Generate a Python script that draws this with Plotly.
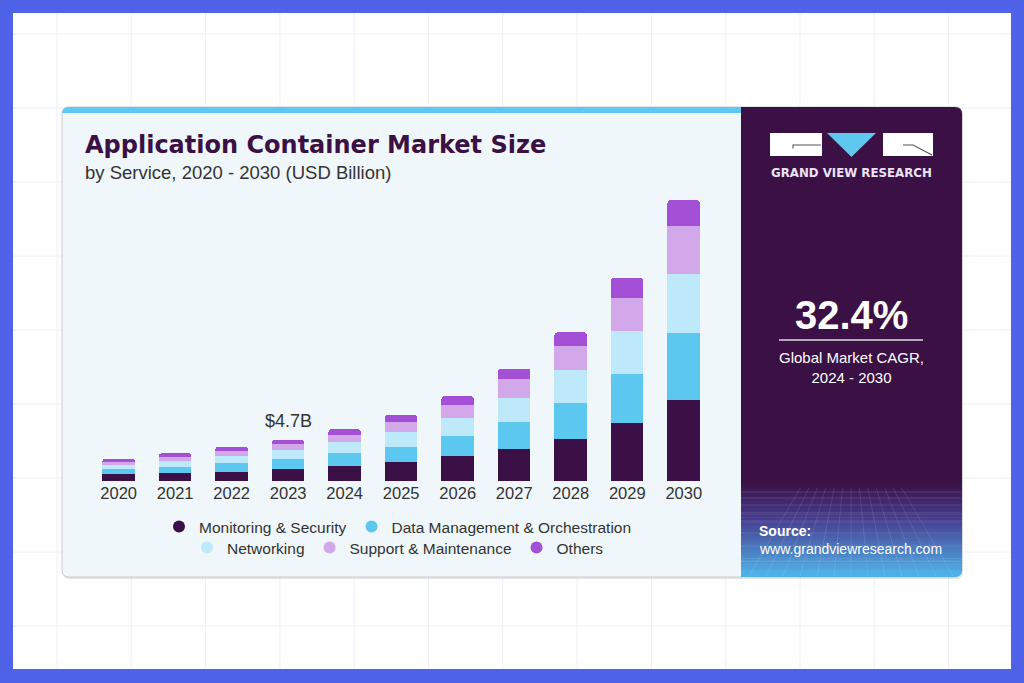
import re
import plotly.graph_objects as go

# ---------------- data ----------------
years = ["2020", "2021", "2022", "2023", "2024", "2025", "2026", "2027", "2028", "2029", "2030"]
monitoring = [0.76, 0.94, 1.06, 1.37, 1.71, 2.16, 2.84, 3.69, 4.82, 6.64, 9.18]
data_mgmt = [0.60, 0.70, 0.96, 1.17, 1.48, 1.74, 2.28, 3.03, 4.05, 5.57, 7.66]
networking = [0.49, 0.68, 0.86, 0.99, 1.25, 1.71, 2.05, 2.73, 3.72, 4.85, 6.76]
support = [0.30, 0.40, 0.53, 0.65, 0.83, 1.14, 1.52, 2.13, 2.76, 3.80, 5.42]
others = [0.38, 0.43, 0.49, 0.49, 0.61, 0.76, 0.94, 1.22, 1.56, 2.23, 2.92]
series_names = ["Monitoring & Security", "Data Management & Orchestration",
                "Networking", "Support & Maintenance", "Others"]
series_values = [monitoring, data_mgmt, networking, support, others]
series_colors = ["#3a1046", "#5cc8f0", "#bee9fa", "#d2a8eb", "#a34fd6"]
highlight_year = "2023"
cagr_text = "32.4%"

W, H = 1024, 683
def X(px): return px / W
def Y(py): return 1 - py / H

FONT = "Liberation Sans"
TXT = "#333333"
DARK = "#3a1045"

fig = go.Figure()
for name, vals, col in zip(series_names, series_values, series_colors):
    fig.add_trace(go.Bar(x=years, y=vals, name=name, marker=dict(color=col, line=dict(width=0)),
                         showlegend=False))
# legend entries (circle symbols), split in two centered rows
for i, (name, col) in enumerate(zip(series_names, series_colors)):
    fig.add_trace(go.Scatter(x=[years[0]], y=[None], mode="markers", name=name,
                             marker=dict(color=col, size=12, symbol="circle"),
                             legend="legend" if i < 2 else "legend2"))

shapes = []
# white canvas
shapes.append(dict(type="rect", xref="paper", yref="paper", x0=X(13), x1=X(1011), y0=Y(669), y1=Y(13),
                   fillcolor="white", line=dict(width=0), layer="below"))
# faint background grid
gx = 57.0
while gx < 1011:
    shapes.append(dict(type="line", xref="paper", yref="paper", x0=X(gx), x1=X(gx), y0=Y(669), y1=Y(13),
                       line=dict(color="#eef0fa", width=1), layer="below"))
    gx += 74.3
gy = 34.0
while gy < 669:
    shapes.append(dict(type="line", xref="paper", yref="paper", x0=X(13), x1=X(1011), y0=Y(gy), y1=Y(gy),
                       line=dict(color="#eef0fa", width=1), layer="below"))
    gy += 74.0

def P(px, py):
    return f"{px},{py}"

def rounded_rect(x0, y0, x1, y1, r):
    return (f"M{P(x0 + r, y0)} H{x1 - r} Q{P(x1, y0)} {P(x1, y0 + r)} V{y1 - r} Q{P(x1, y1)} {P(x1 - r, y1)} "
            f"H{x0 + r} Q{P(x0, y1)} {P(x0, y1 - r)} V{y0 + r} Q{P(x0, y0)} {P(x0 + r, y0)} Z")

def to_paper(path):
    def repl(m):
        a, b = float(m.group(1)), float(m.group(2))
        return f"{X(a):.5f},{Y(b):.5f}"
    path = re.sub(r"(-?\d+\.?\d*),(-?\d+\.?\d*)", repl, path)
    path = re.sub(r"H(-?\d+\.?\d*)", lambda m: f"H{X(float(m.group(1))):.5f}", path)
    path = re.sub(r"V(-?\d+\.?\d*)", lambda m: f"V{Y(float(m.group(1))):.5f}", path)
    return path

# card shadow + card
shapes.append(dict(type="path", xref="paper", yref="paper", path=to_paper(rounded_rect(63, 108, 963, 579, 7)),
                   fillcolor="rgba(0,0,0,0.10)", line=dict(width=0), layer="below"))
shapes.append(dict(type="path", xref="paper", yref="paper", path=to_paper(rounded_rect(62, 107, 962, 577, 7)),
                   fillcolor="#f0f7fa", line=dict(color="#c9ccd3", width=1), layer="below"))
# dark right panel (upper part)
panel = "M741,107 H955 Q962,107 962,114 V483 H741 Z"
shapes.append(dict(type="path", xref="paper", yref="paper", path=to_paper(panel),
                   fillcolor=DARK, line=dict(width=0), layer="below"))
# gradient at the bottom of the panel
stops = [(482, (58, 16, 69)), (520, (72, 62, 145)), (577, (78, 182, 236))]
def grad_color(py):
    for (ya, ca), (yb, cb) in zip(stops[:-1], stops[1:]):
        if ya <= py <= yb:
            t = (py - ya) / (yb - ya)
            return "rgb(%d,%d,%d)" % tuple(int(round(ca[k] + (cb[k] - ca[k]) * t)) for k in range(3))
    return "rgb(%d,%d,%d)" % stops[-1][1]
n = 30
g0, g1 = 482, 570
for i in range(n):
    ya = g0 + (g1 - g0) * i / n
    yb = g0 + (g1 - g0) * (i + 1) / n
    shapes.append(dict(type="rect", xref="paper", yref="paper", x0=X(741), x1=X(962), y0=Y(yb + 0.6), y1=Y(ya),
                       fillcolor=grad_color((ya + yb) / 2), line=dict(width=0), layer="below"))
shapes.append(dict(type="path", xref="paper", yref="paper",
                   path=to_paper("M741,570 H962 Q962,577 955,577 H741 Z"),
                   fillcolor=grad_color(574), line=dict(width=0), layer="below"))
# perspective mesh
for yy in [492, 498, 505, 513, 522, 533, 546, 561]:
    shapes.append(dict(type="line", xref="paper", yref="paper", x0=X(741), x1=X(961), y0=Y(yy), y1=Y(yy),
                       line=dict(color="rgba(255,255,255,0.16)", width=0.8), layer="below"))
vx, vy = 851, 400
for k in range(-14, 15):
    xb = vx + k * 17
    t0 = (488 - vy) / (577 - vy)
    xa = vx + (xb - vx) * t0
    if xb < 741 or xb > 961:
        continue
    shapes.append(dict(type="line", xref="paper", yref="paper",
                       x0=X(xa), y0=Y(488), x1=X(xb), y1=Y(576),
                       line=dict(color="rgba(255,255,255,0.14)", width=0.8), layer="below"))
# cyan top strip
strip = "M62,114 Q62,107 69,107 H741 V113 H62 Z"
shapes.append(dict(type="path", xref="paper", yref="paper", path=to_paper(strip),
                   fillcolor="#5ec8ef", line=dict(width=0), layer="below"))
# logo
shapes.append(dict(type="rect", xref="paper", yref="paper", x0=X(770), x1=X(822), y0=Y(156), y1=Y(133),
                   fillcolor="white", line=dict(width=0)))
shapes.append(dict(type="path", xref="paper", yref="paper", path=to_paper("M827,133 L876,133 L851.5,157 Z"),
                   fillcolor="#5ec8ef", line=dict(width=0)))
shapes.append(dict(type="rect", xref="paper", yref="paper", x0=X(883), x1=X(933), y0=Y(156), y1=Y(133),
                   fillcolor="white", line=dict(width=0)))
shapes.append(dict(type="path", xref="paper", yref="paper", path=to_paper("M793,148.5 L793,145 L821,145"),
                   line=dict(color="#555555", width=1.1)))
shapes.append(dict(type="path", xref="paper", yref="paper", path=to_paper("M903,145 L913,145 L932,155"),
                   line=dict(color="#555555", width=1.1)))
# CAGR underline
shapes.append(dict(type="line", xref="paper", yref="paper", x0=X(779), x1=X(923), y0=Y(340), y1=Y(340),
                   line=dict(color="rgba(255,255,255,0.85)", width=1.5)))

idx = years.index(highlight_year)
total_hl = sum(v[idx] for v in series_values)

annotations = [
    dict(text="<b>Application Container Market Size</b>", x=X(83), y=Y(145), xref="paper", yref="paper",
         xanchor="left", yanchor="middle", showarrow=False,
         font=dict(family="DejaVu Sans", size=24, color=DARK)),
    dict(text="by Service, 2020 - 2030 (USD Billion)", x=X(83), y=Y(172), xref="paper", yref="paper",
         xanchor="left", yanchor="middle", showarrow=False,
         font=dict(family=FONT, size=18.5, color=TXT)),
    dict(text=f"${total_hl:.1f}B", x=idx, y=total_hl, xref="x", yref="y",
         xanchor="center", yanchor="bottom", yshift=7, showarrow=False,
         font=dict(family=FONT, size=18, color=TXT)),
    dict(text="<b>GRAND VIEW RESEARCH</b>", x=X(851.5), y=Y(173), xref="paper", yref="paper",
         xanchor="center", yanchor="middle", showarrow=False,
         font=dict(family="DejaVu Sans", size=11.8, color="#ece4f4")),
    dict(text=f"<b>{cagr_text}</b>", x=X(851), y=Y(315), xref="paper", yref="paper",
         xanchor="center", yanchor="middle", showarrow=False,
         font=dict(family=FONT, size=40, color="white")),
    dict(text="Global Market CAGR,<br>2024 - 2030", x=X(851), y=Y(367), xref="paper", yref="paper",
         xanchor="center", yanchor="middle", showarrow=False,
         font=dict(family=FONT, size=15, color="white")),
    dict(text="<b>Source:</b>", x=X(757), y=Y(531), xref="paper", yref="paper",
         xanchor="left", yanchor="middle", showarrow=False,
         font=dict(family=FONT, size=14, color="white")),
    dict(text="www.grandviewresearch.com", x=X(757), y=Y(549), xref="paper", yref="paper",
         xanchor="left", yanchor="middle", showarrow=False,
         font=dict(family=FONT, size=14, color="white")),
]

fig.update_layout(
    width=W, height=H, autosize=False,
    margin=dict(l=0, r=0, t=0, b=0, pad=0),
    paper_bgcolor="#4f63e8", plot_bgcolor="rgba(0,0,0,0)",
    barmode="stack", bargap=0.425, barcornerradius=3,
    font=dict(family=FONT, color=TXT),
    xaxis=dict(domain=[X(90.4), X(712)], type="category", categoryorder="array", categoryarray=years,
               range=[-0.5, len(years) - 0.5], autorange=False, automargin=False,
               showgrid=False, zeroline=False, showline=False,
               ticks="", tickfont=dict(family=FONT, size=16.5, color=TXT), fixedrange=True),
    yaxis=dict(domain=[Y(481), Y(191)], range=[0, 33], autorange=False, visible=False,
               automargin=False, fixedrange=True),
    legend=dict(orientation="h", x=X(398), xanchor="center", y=Y(527), yanchor="middle",
                traceorder="normal", font=dict(family=FONT, size=15.5, color=TXT),
                bgcolor="rgba(0,0,0,0)", itemclick=False, itemdoubleclick=False),
    legend2=dict(orientation="h", x=X(398), xanchor="center", y=Y(548), yanchor="middle",
                 traceorder="normal", font=dict(family=FONT, size=15.5, color=TXT),
                 bgcolor="rgba(0,0,0,0)", itemclick=False, itemdoubleclick=False),
    shapes=shapes,
    annotations=annotations,
    hovermode=False,
)

fig.write_html("out.html", config={"displayModeBar": False},
               post_script="document.body.style.margin='0px';document.body.style.padding='0px';")
